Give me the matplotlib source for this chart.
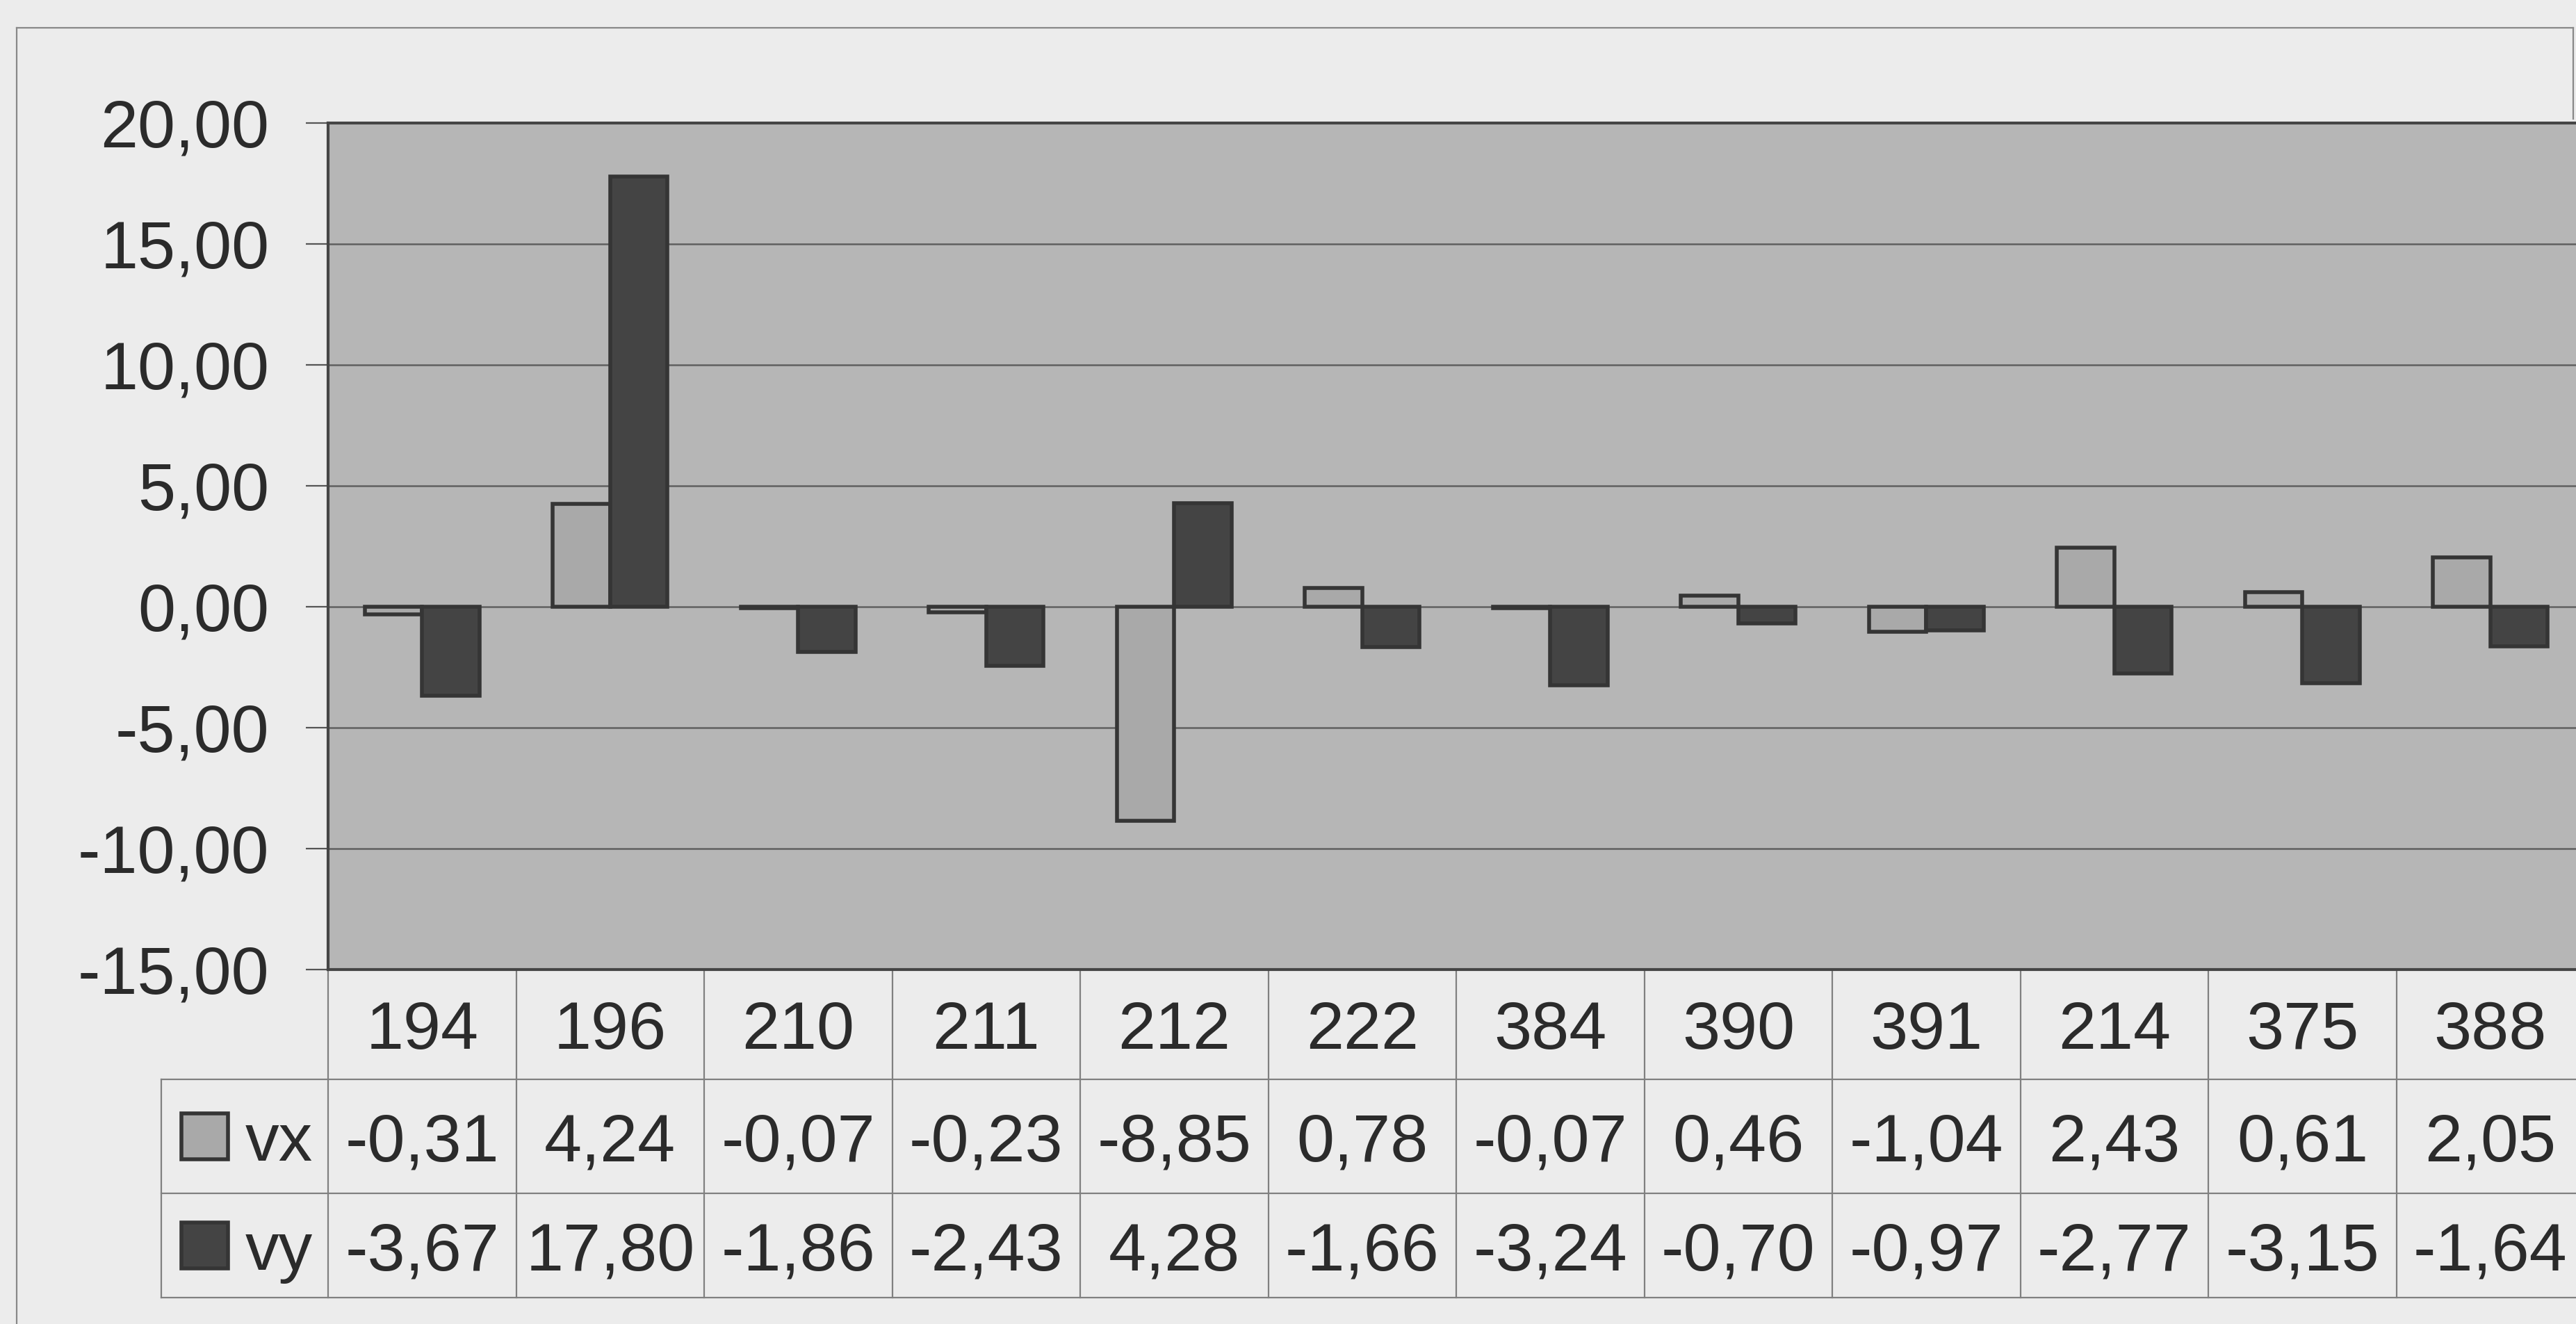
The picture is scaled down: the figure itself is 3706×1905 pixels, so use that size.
import numpy as np
import matplotlib
matplotlib.use("Agg")
import matplotlib.pyplot as plt
from matplotlib.transforms import blended_transform_factory
from matplotlib.lines import Line2D

# velocity components per point id
labels = ["194", "196", "210", "211", "212", "222", "384", "390", "391", "214", "375", "388"]
vx = [-0.31, 4.24, -0.07, -0.23, -8.85, 0.78, -0.07, 0.46, -1.04, 2.43, 0.61, 2.05]
vy = [-3.67, 17.80, -1.86, -2.43, 4.28, -1.66, -3.24, -0.70, -0.97, -2.77, -3.15, -1.64]
series = [("vx", vx, "#a9a9a9"), ("vy", vy, "#444444")]

plt.rcParams["font.family"] = ["Liberation Sans", "DejaVu Sans"]
FS = 70
TXT = "#2b2b2b"

fig = plt.figure(figsize=(37.06, 19.05), dpi=100, facecolor="#ececec")
ax = fig.add_axes([0.12736, 0.26772, 0.8759, 0.63937])
ax.set_facecolor("#b6b6b6")

x = np.arange(len(labels))
w = 0.305
ax.bar(x, vx, width=-w, align="edge", color=series[0][2], edgecolor="#353535", linewidth=4, zorder=3)
ax.bar(x, vy, width=w, align="edge", color=series[1][2], edgecolor="#353535", linewidth=4, zorder=3)

ax.set_xlim(-0.5, len(labels) - 0.5)
ax.set_ylim(-15, 20)
ax.set_yticks(np.arange(-15, 21, 5))
ax.set_yticklabels(["{:.2f}".format(v).replace(".", ",") for v in np.arange(-15, 21, 5)],
                   fontsize=FS, color=TXT)
ax.tick_params(axis="y", direction="out", length=23, width=1.6, color="#555555", pad=38)
ax.set_xticks([])
ax.yaxis.grid(True, color="#606060", linewidth=1.8, zorder=1)
ax.set_axisbelow(True)
for s in ax.spines.values():
    s.set_color("#454545")
    s.set_linewidth(3)

# data table below the plot: x in data units, y in axes fraction
tr = blended_transform_factory(ax.transData, ax.transAxes)
rows = [0.0, -0.1297, -0.2644, -0.3875]
leg_left = -1.387
line_kw = dict(color="#808080", linewidth=1.6, transform=tr, clip_on=False)

for k in range(len(labels) + 1):
    ax.add_line(Line2D([k - 0.5, k - 0.5], [rows[0], rows[-1]], **line_kw))
for r in rows[1:]:
    ax.add_line(Line2D([leg_left, len(labels)], [r, r], **line_kw))
ax.add_line(Line2D([leg_left, leg_left], [rows[1], rows[-1]], **line_kw))

px = 1.0 / (0.63937 * 1905)   # one pixel in axes fraction
for i, lab in enumerate(labels):
    ax.text(i, (rows[0] + rows[1]) / 2 - 35 * px, lab, transform=tr, ha="center",
            va="baseline", fontsize=FS, color=TXT, clip_on=False)
for j, (name, vals, col) in enumerate(series):
    yc = (rows[j + 1] + rows[j + 2]) / 2
    for i, v in enumerate(vals):
        ax.text(i, yc - 35 * px, "{:.2f}".format(v).replace(".", ","), transform=tr,
                ha="center", va="baseline", fontsize=FS, color=TXT, clip_on=False)
    # legend key square
    ax.add_patch(plt.Rectangle((-1.28, yc - 33 * px), 0.248, 66 * px, transform=tr,
                               facecolor=col, edgecolor="#353535", linewidth=4, clip_on=False))
    ax.text(-0.94, yc - 35 * px, name, transform=tr, ha="left", va="baseline",
            fontsize=FS, color=TXT, clip_on=False)

# outer chart frame
frame_kw = dict(color="#888888", linewidth=1.6, transform=fig.transFigure)
top = 1 - 40 / 1905
fig.add_artist(Line2D([24 / 3706, 24 / 3706], [0, top], **frame_kw))
fig.add_artist(Line2D([24 / 3706, 3702 / 3706], [top, top], **frame_kw))
fig.add_artist(Line2D([3702 / 3706, 3702 / 3706], [0.91, top], **frame_kw))

fig.savefig("out.png", dpi=100, facecolor=fig.get_facecolor())
